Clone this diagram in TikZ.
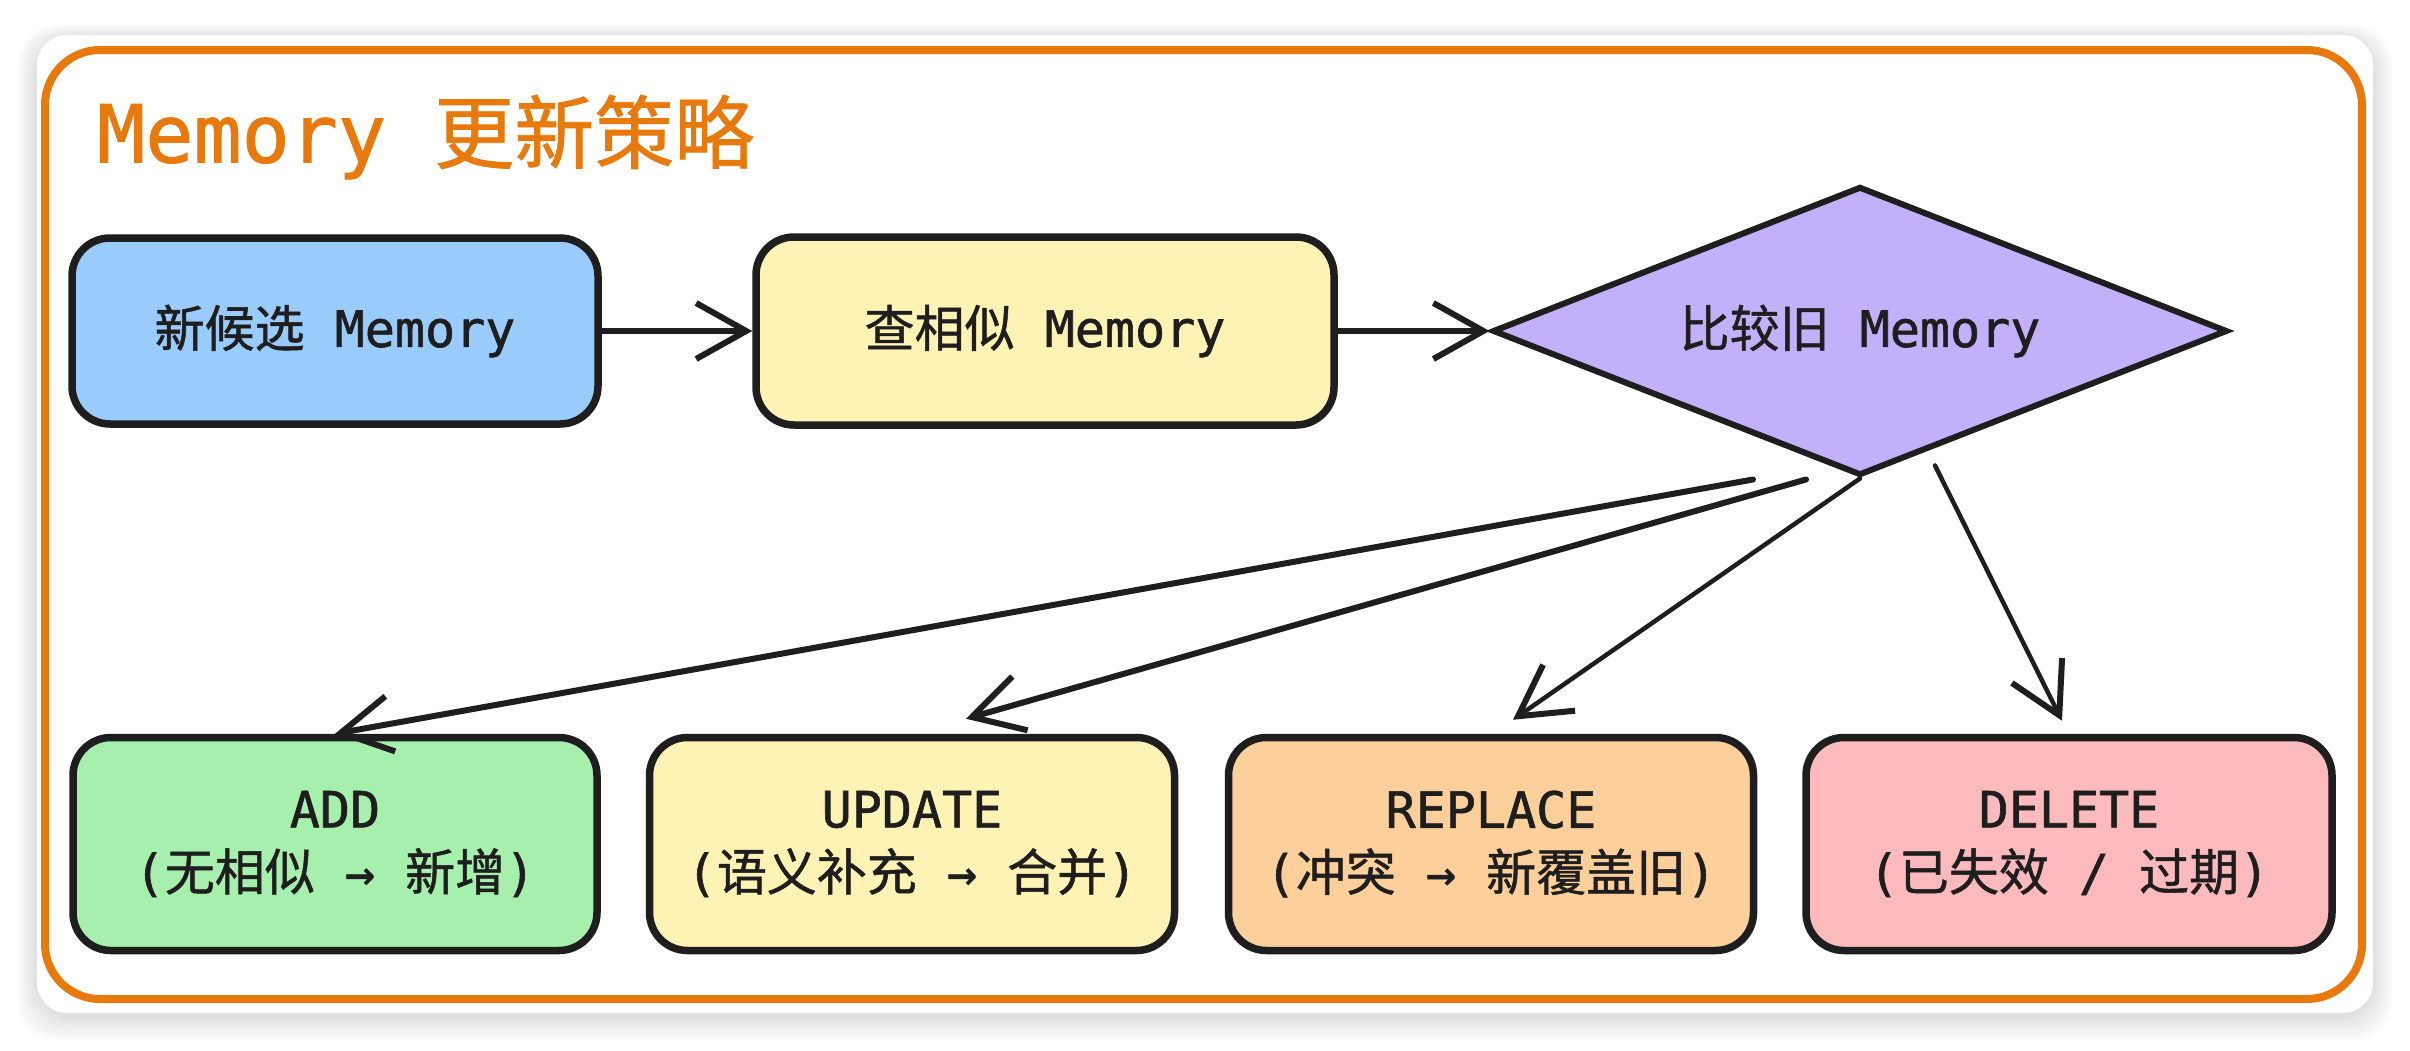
\documentclass[tikz,border=0pt]{standalone}
\usepackage{fontspec}
\setmonofont{DejaVu Sans Mono}[FakeBold=1.2]
\newfontfamily\cjkfont{Noto Sans CJK SC}[FakeBold=1.0]
\newcommand{\zhtext}[1]{{\cjkfont #1}}
\usetikzlibrary{arrows.meta,shapes.geometric,calc}
\definecolor{ink}{HTML}{1E1E1E}
\definecolor{frameorange}{HTML}{E8790C}
\definecolor{bluefill}{HTML}{9ACBFD}
\definecolor{yellowfill}{HTML}{FFF2B5}
\definecolor{purplefill}{HTML}{C3B0FB}
\definecolor{greenfill}{HTML}{A7EFAD}
\definecolor{orangefill}{HTML}{FDD09B}
\definecolor{pinkfill}{HTML}{FDBABD}
\tikzset{
  box/.style={draw=ink, line width=7.5pt, rounded corners=38pt, inner sep=0pt,
    text=ink, align=center, font=\ttfamily\fontsize{50}{63}\selectfont},
  decision/.style={diamond, draw=ink, line width=6pt, inner sep=0pt, shape aspect=2.5,
    text=ink, align=center, font=\ttfamily\fontsize{50}{63}\selectfont},
  arr/.style={draw=ink, line width=6pt, line cap=round, line join=round,
    -{Straight Barb[length=50pt, width=56pt, line width=6pt]}},
  arrthin/.style={arr, line width=4.5pt}
}
\begin{document}
\begin{tikzpicture}[x=1pt,y=-1pt]
\useasboundingbox (0,0) rectangle (2410,1050);
\fill[white] (0,0) rectangle (2410,1050);
% soft shadow of the card
\foreach \i in {1,...,10} {
  \fill[black, opacity=0.012, rounded corners=40pt]
    (37-2*\i, 37-1.2*\i) rectangle (2373+2*\i, 1017+2.4*\i);
}
\fill[white, rounded corners=30pt] (37,35) rectangle (2373,1013);
% orange frame
\draw[frameorange, line width=8pt, rounded corners=55pt] (45,50) rectangle (2362,999);
% title
\node[anchor=west, text=frameorange, inner sep=0pt,
  font=\ttfamily\fontsize{80}{96}\selectfont] (title) at (97,137) {Memory \zhtext{更新策略}};

% top row
\node[box, fill=bluefill, minimum width=526pt, minimum height=186pt] (cand) at (335,331)
  {\zhtext{新候选} Memory};
\node[box, fill=yellowfill, minimum width=578pt, minimum height=188pt] (sim) at (1045,331)
  {\zhtext{查相似} Memory};
\node[decision, fill=purplefill, minimum width=735pt, minimum height=289pt] (cmp) at (1860,331)
  {\zhtext{比较旧} Memory};

% bottom row
\node[box, fill=greenfill, minimum width=524pt, minimum height=213pt] (add) at (335,844)
  {ADD\\(\zhtext{无相似} → \zhtext{新增})};
\node[box, fill=yellowfill, minimum width=525pt, minimum height=213pt] (upd) at (912,844)
  {UPDATE\\(\zhtext{语义补充} → \zhtext{合并})};
\node[box, fill=orangefill, minimum width=525pt, minimum height=213pt] (rep) at (1491,844)
  {REPLACE\\(\zhtext{冲突} → \zhtext{新覆盖旧})};
\node[box, fill=pinkfill, minimum width=526pt, minimum height=213pt] (del) at (2069,844)
  {DELETE\\(\zhtext{已失效} / \zhtext{过期})};

% connectors
\draw[arr] (cand.east) -- (sim.west);
\draw[arr] (sim.east) -- (cmp.west);
\draw[arr] ($(cmp.south)+(-107,1)$) -- (add.north);
\draw[arr] ($(cmp.south)+(-54,1)$) -- ($(upd.north)+(54,-15)$);
\draw[arrthin] (cmp.south) -- ($(rep.north)+(22,-14)$);
\draw[arrthin] ($(cmp.south)+(75,-13)$) -- ($(del.north)+(-7,-13)$);
\end{tikzpicture}
\end{document}
